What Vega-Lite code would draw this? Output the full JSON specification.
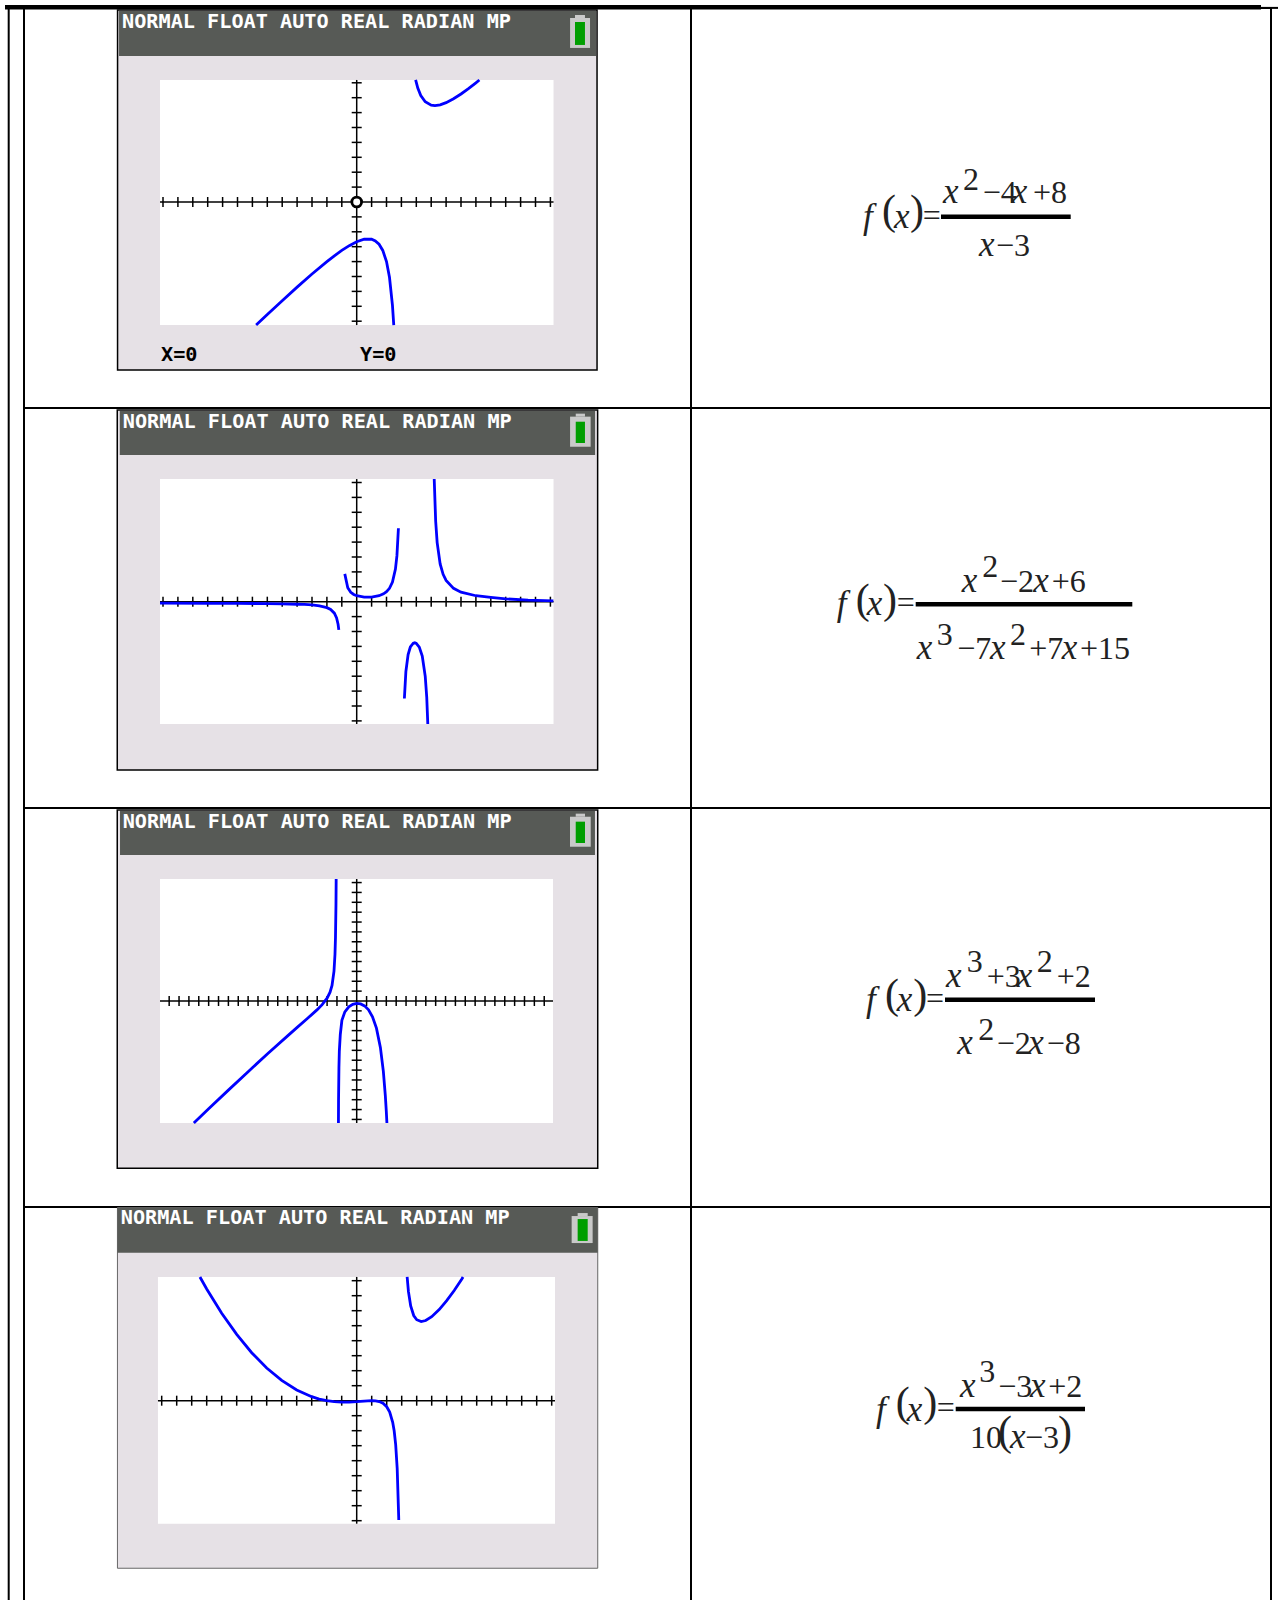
{"$schema":"https://vega.github.io/schema/vega-lite/v6.json","padding":{"left":5,"top":4,"right":0,"bottom":0},"background":"white","columns":3,"bounds":"flush","align":"each","spacing":0,"config":{"view":{"stroke":"#000","strokeWidth":2},"axis":{"disable":true},"text":{"font":"Liberation Serif"}},
"data":{"values":[{"item":"sheet"}]},
"datasets":{
"ticks":[{"v":-19},{"v":-18},{"v":-17},{"v":-16},{"v":-15},{"v":-14},{"v":-13},{"v":-12},{"v":-11},{"v":-10},{"v":-9},{"v":-8},{"v":-7},{"v":-6},{"v":-5},{"v":-4},{"v":-3},{"v":-2},{"v":-1},{"v":1},{"v":2},{"v":3},{"v":4},{"v":5},{"v":6},{"v":7},{"v":8},{"v":9},{"v":10},{"v":11},{"v":12},{"v":13},{"v":14},{"v":15},{"v":16},{"v":17},{"v":18},{"v":19}],
"curves":[
{"panel":1,"seg":"a","x":-6.75,"y":-8.26},{"panel":1,"seg":"a","x":-6,"y":-7.556},{"panel":1,"seg":"a","x":-5,"y":-6.625},{"panel":1,"seg":"a","x":-4,"y":-5.714},{"panel":1,"seg":"a","x":-3,"y":-4.833},{"panel":1,"seg":"a","x":-2,"y":-4},{"panel":1,"seg":"a","x":-1.5,"y":-3.611},{"panel":1,"seg":"a","x":-1,"y":-3.25},{"panel":1,"seg":"a","x":-0.5,"y":-2.929},{"panel":1,"seg":"a","x":0,"y":-2.667},{"panel":1,"seg":"a","x":0.5,"y":-2.5},{"panel":1,"seg":"a","x":1,"y":-2.5},{"panel":1,"seg":"a","x":1.25,"y":-2.607},{"panel":1,"seg":"a","x":1.5,"y":-2.833},{"panel":1,"seg":"a","x":1.75,"y":-3.25},{"panel":1,"seg":"a","x":2,"y":-4},{"panel":1,"seg":"a","x":2.2,"y":-5.05},{"panel":1,"seg":"a","x":2.4,"y":-6.933},{"panel":1,"seg":"a","x":2.487,"y":-8.26},
{"panel":1,"seg":"b","x":3.955,"y":8.19},{"panel":1,"seg":"b","x":4.1,"y":7.645},{"panel":1,"seg":"b","x":4.3,"y":7.146},{"panel":1,"seg":"b","x":4.6,"y":6.725},{"panel":1,"seg":"b","x":5,"y":6.5},{"panel":1,"seg":"b","x":5.25,"y":6.472},{"panel":1,"seg":"b","x":5.6,"y":6.523},{"panel":1,"seg":"b","x":6,"y":6.667},{"panel":1,"seg":"b","x":6.5,"y":6.929},{"panel":1,"seg":"b","x":7,"y":7.25},{"panel":1,"seg":"b","x":7.5,"y":7.611},{"panel":1,"seg":"b","x":8,"y":8},{"panel":1,"seg":"b","x":8.235,"y":8.19},
{"panel":2,"seg":"a","x":-13.2,"y":-0.1},{"panel":2,"seg":"a","x":-10,"y":-0.11},{"panel":2,"seg":"a","x":-8,"y":-0.11},{"panel":2,"seg":"a","x":-6,"y":-0.13},{"panel":2,"seg":"a","x":-5,"y":-0.15},{"panel":2,"seg":"a","x":-4,"y":-0.17},{"panel":2,"seg":"a","x":-3.5,"y":-0.183},{"panel":2,"seg":"a","x":-3,"y":-0.219},{"panel":2,"seg":"a","x":-2.5,"y":-0.279},{"panel":2,"seg":"a","x":-2,"y":-0.4},{"panel":2,"seg":"a","x":-1.75,"y":-0.522},{"panel":2,"seg":"a","x":-1.5,"y":-0.769},{"panel":2,"seg":"a","x":-1.35,"y":-1.088},{"panel":2,"seg":"a","x":-1.25,"y":-1.515},{"panel":2,"seg":"a","x":-1.2,"y":-1.89},
{"panel":2,"seg":"b","x":-0.8,"y":1.87},{"panel":2,"seg":"b","x":-0.6,"y":0.9375},{"panel":2,"seg":"b","x":-0.4,"y":0.632},{"panel":2,"seg":"b","x":-0.2,"y":0.484},{"panel":2,"seg":"b","x":0,"y":0.4},{"panel":2,"seg":"b","x":0.5,"y":0.311},{"panel":2,"seg":"b","x":1,"y":0.3125},{"panel":2,"seg":"b","x":1.5,"y":0.4},{"panel":2,"seg":"b","x":1.8,"y":0.525},{"panel":2,"seg":"b","x":2,"y":0.667},{"panel":2,"seg":"b","x":2.2,"y":0.898},{"panel":2,"seg":"b","x":2.4,"y":1.312},{"panel":2,"seg":"b","x":2.6,"y":2.188},{"panel":2,"seg":"b","x":2.7,"y":3.09},{"panel":2,"seg":"b","x":2.8,"y":4.93},
{"panel":2,"seg":"c","x":3.2,"y":-6.5},{"panel":2,"seg":"c","x":3.3,"y":-4.69},{"panel":2,"seg":"c","x":3.45,"y":-3.55},{"panel":2,"seg":"c","x":3.6,"y":-3.04},{"panel":2,"seg":"c","x":3.8,"y":-2.787},{"panel":2,"seg":"c","x":3.9,"y":-2.76},{"panel":2,"seg":"c","x":4,"y":-2.8},{"panel":2,"seg":"c","x":4.2,"y":-3.05},{"panel":2,"seg":"c","x":4.4,"y":-3.65},{"panel":2,"seg":"c","x":4.6,"y":-5.01},{"panel":2,"seg":"c","x":4.7,"y":-6.4},{"panel":2,"seg":"c","x":4.772,"y":-8.21},
{"panel":2,"seg":"d","x":5.202,"y":8.23},{"panel":2,"seg":"d","x":5.3,"y":5.4},{"panel":2,"seg":"d","x":5.4,"y":3.965},{"panel":2,"seg":"d","x":5.6,"y":2.54},{"panel":2,"seg":"d","x":5.8,"y":1.84},{"panel":2,"seg":"d","x":6,"y":1.43},{"panel":2,"seg":"d","x":6.5,"y":0.895},{"panel":2,"seg":"d","x":7,"y":0.64},{"panel":2,"seg":"d","x":8,"y":0.4},{"panel":2,"seg":"d","x":9,"y":0.2875},{"panel":2,"seg":"d","x":10,"y":0.19},{"panel":2,"seg":"d","x":11.5,"y":0.1},{"panel":2,"seg":"d","x":13.2,"y":0.06},
{"panel":3,"seg":"a","x":-16.5,"y":-12.36},{"panel":3,"seg":"a","x":-15,"y":-10.92},{"panel":3,"seg":"a","x":-13,"y":-9.03},{"panel":3,"seg":"a","x":-11,"y":-7.16},{"panel":3,"seg":"a","x":-9,"y":-5.32},{"panel":3,"seg":"a","x":-7,"y":-3.53},{"panel":3,"seg":"a","x":-6,"y":-2.65},{"panel":3,"seg":"a","x":-5,"y":-1.78},{"panel":3,"seg":"a","x":-4,"y":-0.875},{"panel":3,"seg":"a","x":-3.5,"y":-0.367},{"panel":3,"seg":"a","x":-3,"y":0.286},{"panel":3,"seg":"a","x":-2.7,"y":0.893},{"panel":3,"seg":"a","x":-2.5,"y":1.577},{"panel":3,"seg":"a","x":-2.3,"y":3.017},{"panel":3,"seg":"a","x":-2.2,"y":4.735},{"panel":3,"seg":"a","x":-2.15,"y":6.43},{"panel":3,"seg":"a","x":-2.1,"y":9.785},{"panel":3,"seg":"a","x":-2.08,"y":12.36},
{"panel":3,"seg":"b","x":-1.85,"y":-12.36},{"panel":3,"seg":"b","x":-1.84,"y":-10.1},{"panel":3,"seg":"b","x":-1.8,"y":-6.77},{"panel":3,"seg":"b","x":-1.76,"y":-5.08},{"panel":3,"seg":"b","x":-1.66,"y":-3.367},{"panel":3,"seg":"b","x":-1.5,"y":-1.955},{"panel":3,"seg":"b","x":-1.2,"y":-1.104},{"panel":3,"seg":"b","x":-0.8,"y":-0.592},{"panel":3,"seg":"b","x":-0.4,"y":-0.343},{"panel":3,"seg":"b","x":0,"y":-0.25},{"panel":3,"seg":"b","x":0.4,"y":-0.294},{"panel":3,"seg":"b","x":0.8,"y":-0.495},{"panel":3,"seg":"b","x":1.2,"y":-0.898},{"panel":3,"seg":"b","x":1.6,"y":-1.594},{"panel":3,"seg":"b","x":2,"y":-2.75},{"panel":3,"seg":"b","x":2.4,"y":-4.7},{"panel":3,"seg":"b","x":2.7,"y":-7.13},{"panel":3,"seg":"b","x":2.9,"y":-9.58},{"panel":3,"seg":"b","x":3,"y":-11.2},{"panel":3,"seg":"b","x":3.06,"y":-12.36},
{"panel":4,"seg":"a","x":-10.45,"y":8.25},{"panel":4,"seg":"a","x":-10,"y":7.446},{"panel":4,"seg":"a","x":-9,"y":5.833},{"panel":4,"seg":"a","x":-8,"y":4.418},{"panel":4,"seg":"a","x":-7,"y":3.2},{"panel":4,"seg":"a","x":-6,"y":2.178},{"panel":4,"seg":"a","x":-5,"y":1.35},{"panel":4,"seg":"a","x":-4,"y":0.714},{"panel":4,"seg":"a","x":-3,"y":0.267},{"panel":4,"seg":"a","x":-2.5,"y":0.111},{"panel":4,"seg":"a","x":-2,"y":0},{"panel":4,"seg":"a","x":-1.5,"y":-0.069},{"panel":4,"seg":"a","x":-1,"y":-0.1},{"panel":4,"seg":"a","x":-0.5,"y":-0.096},{"panel":4,"seg":"a","x":0,"y":-0.067},{"panel":4,"seg":"a","x":0.5,"y":-0.025},{"panel":4,"seg":"a","x":1,"y":0},{"panel":4,"seg":"a","x":1.25,"y":-0.012},{"panel":4,"seg":"a","x":1.5,"y":-0.058},{"panel":4,"seg":"a","x":1.75,"y":-0.169},{"panel":4,"seg":"a","x":2,"y":-0.4},{"panel":4,"seg":"a","x":2.2,"y":-0.756},{"panel":4,"seg":"a","x":2.4,"y":-1.437},{"panel":4,"seg":"a","x":2.5,"y":-2.025},{"panel":4,"seg":"a","x":2.6,"y":-2.944},{"panel":4,"seg":"a","x":2.7,"y":-4.528},{"panel":4,"seg":"a","x":2.8,"y":-7.78},{"panel":4,"seg":"a","x":2.805,"y":-7.95},
{"panel":4,"seg":"b","x":3.363,"y":8.25},{"panel":4,"seg":"b","x":3.45,"y":7.27},{"panel":4,"seg":"b","x":3.6,"y":6.31},{"panel":4,"seg":"b","x":3.8,"y":5.68},{"panel":4,"seg":"b","x":4,"y":5.4},{"panel":4,"seg":"b","x":4.3,"y":5.277},{"panel":4,"seg":"b","x":4.6,"y":5.345},{"panel":4,"seg":"b","x":5,"y":5.6},{"panel":4,"seg":"b","x":5.5,"y":6.076},{"panel":4,"seg":"b","x":6,"y":6.667},{"panel":4,"seg":"b","x":6.5,"y":7.346},{"panel":4,"seg":"b","x":7,"y":8.1},{"panel":4,"seg":"b","x":7.09,"y":8.25}
],
"formula":[
{"row":1,"font":"i","text":"f","x":17.2,"y":22.03},{"row":1,"font":"p","text":"(","x":19.1,"y":21.6},{"row":1,"font":"i","text":"x","x":20.3,"y":22.03},{"row":1,"font":"p","text":")","x":21.9,"y":21.6},{"row":1,"font":"r","text":"=","x":23.17,"y":21.83},{"row":1,"font":"i","text":"x","x":25.2,"y":19.53},{"row":1,"font":"r","text":"2","x":27.2,"y":18.2},{"row":1,"font":"r","text":"−4","x":29.17,"y":19.53},{"row":1,"font":"i","text":"x","x":32.07,"y":19.53},{"row":1,"font":"r","text":"+8","x":34.2,"y":19.53},{"row":1,"font":"i","text":"x","x":28.8,"y":24.8},{"row":1,"font":"r","text":"−3","x":30.5,"y":24.8},
{"row":2,"font":"i","text":"f","x":14.57,"y":20.7},{"row":2,"font":"p","text":"(","x":16.47,"y":20.47},{"row":2,"font":"i","text":"x","x":17.57,"y":20.7},{"row":2,"font":"p","text":")","x":19.2,"y":20.47},{"row":2,"font":"r","text":"=","x":20.57,"y":20.5},{"row":2,"font":"i","text":"x","x":27.07,"y":18.37},{"row":2,"font":"r","text":"2","x":29.13,"y":16.9},{"row":2,"font":"r","text":"−2","x":30.9,"y":18.37},{"row":2,"font":"i","text":"x","x":34.23,"y":18.37},{"row":2,"font":"r","text":"+6","x":36.07,"y":18.37},{"row":2,"font":"i","text":"x","x":22.57,"y":25.13},{"row":2,"font":"r","text":"3","x":24.57,"y":23.7},{"row":2,"font":"r","text":"−7","x":26.63,"y":25.13},{"row":2,"font":"i","text":"x","x":29.9,"y":25.13},{"row":2,"font":"r","text":"2","x":31.9,"y":23.7},{"row":2,"font":"r","text":"+7","x":33.83,"y":25.13},{"row":2,"font":"i","text":"x","x":37.07,"y":25.13},{"row":2,"font":"r","text":"+15","x":38.9,"y":25.13},
{"row":3,"font":"i","text":"f","x":17.5,"y":20.3},{"row":3,"font":"p","text":"(","x":19.4,"y":19.97},{"row":3,"font":"i","text":"x","x":20.57,"y":20.3},{"row":3,"font":"p","text":")","x":22.23,"y":19.97},{"row":3,"font":"r","text":"=","x":23.5,"y":20.1},{"row":3,"font":"i","text":"x","x":25.5,"y":17.93},{"row":3,"font":"r","text":"3","x":27.57,"y":16.37},{"row":3,"font":"r","text":"+3","x":29.57,"y":17.93},{"row":3,"font":"i","text":"x","x":32.57,"y":17.93},{"row":3,"font":"r","text":"2","x":34.57,"y":16.37},{"row":3,"font":"r","text":"+2","x":36.57,"y":17.93},{"row":3,"font":"i","text":"x","x":26.63,"y":24.6},{"row":3,"font":"r","text":"2","x":28.73,"y":23.2},{"row":3,"font":"r","text":"−2","x":30.57,"y":24.6},{"row":3,"font":"i","text":"x","x":33.73,"y":24.6},{"row":3,"font":"r","text":"−8","x":35.57,"y":24.6},
{"row":4,"font":"i","text":"f","x":18.5,"y":21.4},{"row":4,"font":"p","text":"(","x":20.47,"y":20.9},{"row":4,"font":"i","text":"x","x":21.57,"y":21.4},{"row":4,"font":"p","text":")","x":23.23,"y":20.9},{"row":4,"font":"r","text":"=","x":24.57,"y":21.1},{"row":4,"font":"i","text":"x","x":26.9,"y":19.03},{"row":4,"font":"r","text":"3","x":28.83,"y":17.47},{"row":4,"font":"r","text":"−3","x":30.73,"y":19.03},{"row":4,"font":"i","text":"x","x":33.9,"y":19.03},{"row":4,"font":"r","text":"+2","x":35.73,"y":19.03},{"row":4,"font":"r","text":"10","x":27.9,"y":24.13},{"row":4,"font":"p","text":"(","x":30.7,"y":23.8},{"row":4,"font":"i","text":"x","x":31.9,"y":24.13},{"row":4,"font":"r","text":"−3","x":33.4,"y":24.13},{"row":4,"font":"p","text":")","x":36.7,"y":23.8}
]},
"concat":[
{"width":19,"height":400,"view":{"stroke":null},"layer":[
{"mark":{"type":"rule","color":"#000","strokeWidth":2},"encoding":{"x":{"datum":3.7,"axis":null,"scale":{"domain":[0,19],"nice":false,"zero":false}}}},
{"mark":{"type":"rect","color":"#000"},"encoding":{"x":{"datum":0},"x2":{"datum":19},"y":{"datum":-3,"axis":null,"scale":{"domain":[400,0],"nice":false,"zero":false}},"y2":{"datum":1.5}}}
]},
{"width":667,"height":400,"layer":[
{"mark":{"type":"rect","color":"#e6e1e6","stroke":"#000","strokeWidth":1.5},"encoding":{"x":{"datum":-16.05,"axis":null,"scale":{"domain":[-22.329,22.436],"nice":false,"zero":false}},"x2":{"datum":16.13},"y":{"datum":12.89,"axis":null,"scale":{"domain":[-13.826,13.02],"nice":false,"zero":false}},"y2":{"datum":-11.28}}},
{"mark":{"type":"rect","color":"#575a56"},"encoding":{"x":{"datum":-15.95},"x2":{"datum":16.06},"y":{"datum":12.82},"y2":{"datum":9.8}}},
{"mark":{"type":"rect","color":"#fff"},"encoding":{"x":{"datum":-13.2},"x2":{"datum":13.21},"y":{"datum":8.19},"y2":{"datum":-8.26}}},
{"mark":{"type":"rect","color":"#c9c9c9"},"encoding":{"x":{"datum":14.32},"x2":{"datum":15.66},"y":{"datum":12.35},"y2":{"datum":10.34}}},
{"mark":{"type":"rect","color":"#c9c9c9"},"encoding":{"x":{"datum":14.65},"x2":{"datum":15.32},"y":{"datum":12.55},"y2":{"datum":12.35}}},
{"mark":{"type":"rect","color":"#009e00"},"encoding":{"x":{"datum":14.65},"x2":{"datum":15.32},"y":{"datum":12.08},"y2":{"datum":10.54}}},
{"mark":{"type":"text","font":"DejaVu Sans Mono","fontWeight":"bold","fontSize":20.2,"color":"#fff","align":"left","baseline":"middle"},"encoding":{"x":{"datum":-15.75},"y":{"datum":12.05},"text":{"value":"NORMAL FLOAT AUTO REAL RADIAN MP"}}},
{"mark":{"type":"text","font":"DejaVu Sans Mono","fontWeight":"bold","fontSize":20.2,"color":"#000","align":"left","baseline":"middle"},"encoding":{"x":{"datum":-13.13},"y":{"datum":-10.27},"text":{"value":"X=0"}}},
{"mark":{"type":"text","font":"DejaVu Sans Mono","fontWeight":"bold","fontSize":20.2,"color":"#000","align":"left","baseline":"middle"},"encoding":{"x":{"datum":0.22},"y":{"datum":-10.27},"text":{"value":"Y=0"}}},
{"mark":{"type":"rule","color":"#000","strokeWidth":1.5},"encoding":{"x":{"datum":-13.2},"x2":{"datum":13.21},"y":{"datum":0}}},
{"mark":{"type":"rule","color":"#000","strokeWidth":1.5},"encoding":{"y":{"datum":8.19},"y2":{"datum":-8.26},"x":{"datum":0}}},
{"data":{"name":"ticks"},"transform":[{"filter":"datum.v>=-13&&datum.v<=13"}],"mark":{"type":"tick","orient":"vertical","size":10,"thickness":1.5,"color":"#000","opacity":1},"encoding":{"x":{"field":"v","type":"quantitative"},"y":{"datum":0}}},
{"data":{"name":"ticks"},"transform":[{"filter":"datum.v>=-8&&datum.v<=8"}],"mark":{"type":"tick","orient":"horizontal","size":10,"thickness":1.5,"color":"#000","opacity":1},"encoding":{"y":{"field":"v","type":"quantitative"},"x":{"datum":0}}},
{"data":{"name":"curves"},"transform":[{"filter":"datum.panel==1"}],"mark":{"type":"line","color":"#0000ff","strokeWidth":2.8},"encoding":{"x":{"field":"x","type":"quantitative"},"y":{"field":"y","type":"quantitative"},"detail":{"field":"seg"}}},
{"mark":{"type":"point","filled":false,"size":95,"stroke":"#000","strokeWidth":2.8,"opacity":1,"fill":"#fff"},"encoding":{"x":{"datum":0},"y":{"datum":0}}},
{"mark":{"type":"rect","color":"#000"},"encoding":{"x":{"datum":-22.329},"x2":{"datum":22.436},"y":{"datum":13.22},"y2":{"datum":12.92}}}
]},
{"width":580,"height":400,"layer":[
{"mark":{"type":"rule","color":"#000","strokeWidth":4.5},"encoding":{"x":{"datum":25,"axis":null,"scale":{"domain":[0,58],"nice":false,"zero":false}},"x2":{"datum":37.97},"y":{"datum":20.87,"axis":null,"scale":{"domain":[40,0],"nice":false,"zero":false}}}},
{"data":{"name":"formula"},"transform":[{"filter":"datum.row==1&&datum.font=='i'"}],"mark":{"type":"text","fontStyle":"italic","fontSize":35,"align":"left","baseline":"alphabetic","color":"#222"},"encoding":{"x":{"field":"x","type":"quantitative"},"y":{"field":"y","type":"quantitative"},"text":{"field":"text"}}},
{"data":{"name":"formula"},"transform":[{"filter":"datum.row==1&&datum.font=='r'"}],"mark":{"type":"text","fontSize":32,"align":"left","baseline":"alphabetic","color":"#222"},"encoding":{"x":{"field":"x","type":"quantitative"},"y":{"field":"y","type":"quantitative"},"text":{"field":"text"}}},
{"data":{"name":"formula"},"transform":[{"filter":"datum.row==1&&datum.font=='p'"}],"mark":{"type":"text","fontSize":42,"align":"left","baseline":"alphabetic","color":"#222"},"encoding":{"x":{"field":"x","type":"quantitative"},"y":{"field":"y","type":"quantitative"},"text":{"field":"text"}}},
{"mark":{"type":"rect","color":"#000"},"encoding":{"x":{"datum":0},"x2":{"datum":57},"y":{"datum":-0.3},"y2":{"datum":0.15}}},
{"mark":{"type":"rule","color":"#000","strokeWidth":2},"encoding":{"x":{"datum":57},"x2":{"datum":58.7},"y":{"datum":-0.01}}}
]},
{"width":19,"height":400,"view":{"stroke":null},"layer":[{"mark":{"type":"rule","color":"#000","strokeWidth":2},"encoding":{"x":{"datum":3.7,"axis":null,"scale":{"domain":[0,19],"nice":false,"zero":false}}}}]},
{"width":667,"height":400,"layer":[
{"mark":{"type":"rect","color":"#e6e1e6","stroke":"#000","strokeWidth":1.5},"encoding":{"x":{"datum":-16.07,"axis":null,"scale":{"domain":[-22.329,22.436],"nice":false,"zero":false}},"x2":{"datum":16.17},"y":{"datum":12.87,"axis":null,"scale":{"domain":[-13.846,13.0],"nice":false,"zero":false}},"y2":{"datum":-11.3}}},
{"mark":{"type":"rect","color":"#575a56"},"encoding":{"x":{"datum":-15.9},"x2":{"datum":16.0},"y":{"datum":12.8},"y2":{"datum":9.85}}},
{"mark":{"type":"rect","color":"#fff"},"encoding":{"x":{"datum":-13.2},"x2":{"datum":13.21},"y":{"datum":8.23},"y2":{"datum":-8.21}}},
{"mark":{"type":"rect","color":"#c9c9c9"},"encoding":{"x":{"datum":14.32},"x2":{"datum":15.7},"y":{"datum":12.42},"y2":{"datum":10.4}}},
{"mark":{"type":"rect","color":"#c9c9c9"},"encoding":{"x":{"datum":14.7},"x2":{"datum":15.32},"y":{"datum":12.62},"y2":{"datum":12.42}}},
{"mark":{"type":"rect","color":"#009e00"},"encoding":{"x":{"datum":14.7},"x2":{"datum":15.32},"y":{"datum":12.08},"y2":{"datum":10.65}}},
{"mark":{"type":"text","font":"DejaVu Sans Mono","fontWeight":"bold","fontSize":20.2,"color":"#fff","align":"left","baseline":"middle"},"encoding":{"x":{"datum":-15.7},"y":{"datum":12.08},"text":{"value":"NORMAL FLOAT AUTO REAL RADIAN MP"}}},
{"mark":{"type":"rule","color":"#000","strokeWidth":1.5},"encoding":{"x":{"datum":-13.2},"x2":{"datum":13.21},"y":{"datum":0}}},
{"mark":{"type":"rule","color":"#000","strokeWidth":1.5},"encoding":{"y":{"datum":8.23},"y2":{"datum":-8.21},"x":{"datum":0}}},
{"data":{"name":"ticks"},"transform":[{"filter":"datum.v>=-13&&datum.v<=13"}],"mark":{"type":"tick","orient":"vertical","size":10,"thickness":1.5,"color":"#000","opacity":1},"encoding":{"x":{"field":"v","type":"quantitative"},"y":{"datum":0}}},
{"data":{"name":"ticks"},"transform":[{"filter":"datum.v>=-8&&datum.v<=8"}],"mark":{"type":"tick","orient":"horizontal","size":10,"thickness":1.5,"color":"#000","opacity":1},"encoding":{"y":{"field":"v","type":"quantitative"},"x":{"datum":0}}},
{"data":{"name":"curves"},"transform":[{"filter":"datum.panel==2"}],"mark":{"type":"line","color":"#0000ff","strokeWidth":2.8},"encoding":{"x":{"field":"x","type":"quantitative"},"y":{"field":"y","type":"quantitative"},"detail":{"field":"seg"}}}
]},
{"width":580,"height":400,"layer":[
{"mark":{"type":"rule","color":"#000","strokeWidth":4.5},"encoding":{"x":{"datum":22.47,"axis":null,"scale":{"domain":[0,58],"nice":false,"zero":false}},"x2":{"datum":44.13},"y":{"datum":19.63,"axis":null,"scale":{"domain":[40,0],"nice":false,"zero":false}}}},
{"data":{"name":"formula"},"transform":[{"filter":"datum.row==2&&datum.font=='i'"}],"mark":{"type":"text","fontStyle":"italic","fontSize":35,"align":"left","baseline":"alphabetic","color":"#222"},"encoding":{"x":{"field":"x","type":"quantitative"},"y":{"field":"y","type":"quantitative"},"text":{"field":"text"}}},
{"data":{"name":"formula"},"transform":[{"filter":"datum.row==2&&datum.font=='r'"}],"mark":{"type":"text","fontSize":32,"align":"left","baseline":"alphabetic","color":"#222"},"encoding":{"x":{"field":"x","type":"quantitative"},"y":{"field":"y","type":"quantitative"},"text":{"field":"text"}}},
{"data":{"name":"formula"},"transform":[{"filter":"datum.row==2&&datum.font=='p'"}],"mark":{"type":"text","fontSize":42,"align":"left","baseline":"alphabetic","color":"#222"},"encoding":{"x":{"field":"x","type":"quantitative"},"y":{"field":"y","type":"quantitative"},"text":{"field":"text"}}}
]},
{"width":19,"height":399,"view":{"stroke":null},"layer":[{"mark":{"type":"rule","color":"#000","strokeWidth":2},"encoding":{"x":{"datum":3.7,"axis":null,"scale":{"domain":[0,19],"nice":false,"zero":false}}}}]},
{"width":667,"height":399,"layer":[
{"mark":{"type":"rect","color":"#e6e1e6","stroke":"#000","strokeWidth":1.5},"encoding":{"x":{"datum":-24.26,"axis":null,"scale":{"domain":[-33.708,33.87],"nice":false,"zero":false}},"x2":{"datum":24.42},"y":{"datum":19.35,"axis":null,"scale":{"domain":[-20.872,19.554],"nice":false,"zero":false}},"y2":{"datum":-16.95}}},
{"mark":{"type":"rect","color":"#575a56"},"encoding":{"x":{"datum":-23.98},"x2":{"datum":24.14},"y":{"datum":19.25},"y2":{"datum":14.79}}},
{"mark":{"type":"rect","color":"#fff"},"encoding":{"x":{"datum":-19.93},"x2":{"datum":19.89},"y":{"datum":12.36},"y2":{"datum":-12.36}}},
{"mark":{"type":"rect","color":"#c9c9c9"},"encoding":{"x":{"datum":21.61},"x2":{"datum":23.71},"y":{"datum":18.67},"y2":{"datum":15.63}}},
{"mark":{"type":"rect","color":"#c9c9c9"},"encoding":{"x":{"datum":22.19},"x2":{"datum":23.13},"y":{"datum":18.98},"y2":{"datum":18.67}}},
{"mark":{"type":"rect","color":"#009e00"},"encoding":{"x":{"datum":22.19},"x2":{"datum":23.13},"y":{"datum":18.17},"y2":{"datum":16.01}}},
{"mark":{"type":"text","font":"DejaVu Sans Mono","fontWeight":"bold","fontSize":20.2,"color":"#fff","align":"left","baseline":"middle"},"encoding":{"x":{"datum":-23.71},"y":{"datum":18.17},"text":{"value":"NORMAL FLOAT AUTO REAL RADIAN MP"}}},
{"mark":{"type":"rule","color":"#000","strokeWidth":1.5},"encoding":{"x":{"datum":-19.93},"x2":{"datum":19.89},"y":{"datum":0}}},
{"mark":{"type":"rule","color":"#000","strokeWidth":1.5},"encoding":{"y":{"datum":12.36},"y2":{"datum":-12.36},"x":{"datum":0}}},
{"data":{"name":"ticks"},"mark":{"type":"tick","orient":"vertical","size":10,"thickness":1.5,"color":"#000","opacity":1},"encoding":{"x":{"field":"v","type":"quantitative"},"y":{"datum":0}}},
{"data":{"name":"ticks"},"transform":[{"filter":"datum.v>=-12&&datum.v<=12"}],"mark":{"type":"tick","orient":"horizontal","size":10,"thickness":1.5,"color":"#000","opacity":1},"encoding":{"y":{"field":"v","type":"quantitative"},"x":{"datum":0}}},
{"data":{"name":"curves"},"transform":[{"filter":"datum.panel==3"}],"mark":{"type":"line","color":"#0000ff","strokeWidth":2.8},"encoding":{"x":{"field":"x","type":"quantitative"},"y":{"field":"y","type":"quantitative"},"detail":{"field":"seg"}}}
]},
{"width":580,"height":399,"layer":[
{"mark":{"type":"rule","color":"#000","strokeWidth":4.5},"encoding":{"x":{"datum":25.4,"axis":null,"scale":{"domain":[0,58],"nice":false,"zero":false}},"x2":{"datum":40.4},"y":{"datum":19.17,"axis":null,"scale":{"domain":[39.9,0],"nice":false,"zero":false}}}},
{"data":{"name":"formula"},"transform":[{"filter":"datum.row==3&&datum.font=='i'"}],"mark":{"type":"text","fontStyle":"italic","fontSize":35,"align":"left","baseline":"alphabetic","color":"#222"},"encoding":{"x":{"field":"x","type":"quantitative"},"y":{"field":"y","type":"quantitative"},"text":{"field":"text"}}},
{"data":{"name":"formula"},"transform":[{"filter":"datum.row==3&&datum.font=='r'"}],"mark":{"type":"text","fontSize":32,"align":"left","baseline":"alphabetic","color":"#222"},"encoding":{"x":{"field":"x","type":"quantitative"},"y":{"field":"y","type":"quantitative"},"text":{"field":"text"}}},
{"data":{"name":"formula"},"transform":[{"filter":"datum.row==3&&datum.font=='p'"}],"mark":{"type":"text","fontSize":42,"align":"left","baseline":"alphabetic","color":"#222"},"encoding":{"x":{"field":"x","type":"quantitative"},"y":{"field":"y","type":"quantitative"},"text":{"field":"text"}}}
]},
{"width":19,"height":394,"view":{"stroke":null},"layer":[{"mark":{"type":"rule","color":"#000","strokeWidth":2},"encoding":{"x":{"datum":3.7,"axis":null,"scale":{"domain":[0,19],"nice":false,"zero":false}}}}]},
{"width":667,"height":394,"view":{"stroke":null},"layer":[
{"mark":{"type":"rule","color":"#000","strokeWidth":2},"encoding":{"y":{"datum":12.913,"axis":null,"scale":{"domain":[-13.354,12.913],"nice":false,"zero":false}}}},
{"mark":{"type":"rule","color":"#000","strokeWidth":2},"encoding":{"x":{"datum":-22.18,"axis":null,"scale":{"domain":[-22.18,22.287],"nice":false,"zero":false}}}},
{"mark":{"type":"rule","color":"#000","strokeWidth":2},"encoding":{"x":{"datum":22.287}}},
{"mark":{"type":"rect","color":"#e6e1e6","stroke":"#666","strokeWidth":1},"encoding":{"x":{"datum":-15.95},"x2":{"datum":16.07},"y":{"datum":12.87},"y2":{"datum":-11.17}}},
{"mark":{"type":"rect","color":"#575a56"},"encoding":{"x":{"datum":-15.95},"x2":{"datum":16.07},"y":{"datum":12.87},"y2":{"datum":9.87}}},
{"mark":{"type":"rect","color":"#fff"},"encoding":{"x":{"datum":-13.25},"x2":{"datum":13.22},"y":{"datum":8.25},"y2":{"datum":-8.2}}},
{"mark":{"type":"rect","color":"#c9c9c9"},"encoding":{"x":{"datum":14.33},"x2":{"datum":15.73},"y":{"datum":12.31},"y2":{"datum":10.51}}},
{"mark":{"type":"rect","color":"#c9c9c9"},"encoding":{"x":{"datum":14.73},"x2":{"datum":15.4},"y":{"datum":12.51},"y2":{"datum":12.31}}},
{"mark":{"type":"rect","color":"#009e00"},"encoding":{"x":{"datum":14.73},"x2":{"datum":15.4},"y":{"datum":12.11},"y2":{"datum":10.65}}},
{"mark":{"type":"text","font":"DejaVu Sans Mono","fontWeight":"bold","fontSize":20.2,"color":"#fff","align":"left","baseline":"middle"},"encoding":{"x":{"datum":-15.73},"y":{"datum":12.18},"text":{"value":"NORMAL FLOAT AUTO REAL RADIAN MP"}}},
{"mark":{"type":"rule","color":"#000","strokeWidth":1.5},"encoding":{"x":{"datum":-13.25},"x2":{"datum":13.22},"y":{"datum":0}}},
{"mark":{"type":"rule","color":"#000","strokeWidth":1.5},"encoding":{"y":{"datum":8.25},"y2":{"datum":-8.2},"x":{"datum":0}}},
{"data":{"name":"ticks"},"transform":[{"filter":"datum.v>=-13&&datum.v<=13"}],"mark":{"type":"tick","orient":"vertical","size":10,"thickness":1.5,"color":"#000","opacity":1},"encoding":{"x":{"field":"v","type":"quantitative"},"y":{"datum":0}}},
{"data":{"name":"ticks"},"transform":[{"filter":"datum.v>=-8&&datum.v<=8"}],"mark":{"type":"tick","orient":"horizontal","size":10,"thickness":1.5,"color":"#000","opacity":1},"encoding":{"y":{"field":"v","type":"quantitative"},"x":{"datum":0}}},
{"data":{"name":"curves"},"transform":[{"filter":"datum.panel==4"}],"mark":{"type":"line","color":"#0000ff","strokeWidth":2.8},"encoding":{"x":{"field":"x","type":"quantitative"},"y":{"field":"y","type":"quantitative"},"detail":{"field":"seg"}}}
]},
{"width":580,"height":394,"view":{"stroke":null},"layer":[
{"mark":{"type":"rule","color":"#000","strokeWidth":2},"encoding":{"y":{"datum":0,"axis":null,"scale":{"domain":[39.4,0],"nice":false,"zero":false}}}},
{"mark":{"type":"rule","color":"#000","strokeWidth":2},"encoding":{"x":{"datum":58,"axis":null,"scale":{"domain":[0,58],"nice":false,"zero":false}}}},
{"mark":{"type":"rule","color":"#000","strokeWidth":4.5},"encoding":{"x":{"datum":26.47},"x2":{"datum":39.4},"y":{"datum":20.2}}},
{"data":{"name":"formula"},"transform":[{"filter":"datum.row==4&&datum.font=='i'"}],"mark":{"type":"text","fontStyle":"italic","fontSize":35,"align":"left","baseline":"alphabetic","color":"#222"},"encoding":{"x":{"field":"x","type":"quantitative"},"y":{"field":"y","type":"quantitative"},"text":{"field":"text"}}},
{"data":{"name":"formula"},"transform":[{"filter":"datum.row==4&&datum.font=='r'"}],"mark":{"type":"text","fontSize":32,"align":"left","baseline":"alphabetic","color":"#222"},"encoding":{"x":{"field":"x","type":"quantitative"},"y":{"field":"y","type":"quantitative"},"text":{"field":"text"}}},
{"data":{"name":"formula"},"transform":[{"filter":"datum.row==4&&datum.font=='p'"}],"mark":{"type":"text","fontSize":42,"align":"left","baseline":"alphabetic","color":"#222"},"encoding":{"x":{"field":"x","type":"quantitative"},"y":{"field":"y","type":"quantitative"},"text":{"field":"text"}}}
]}
]}
